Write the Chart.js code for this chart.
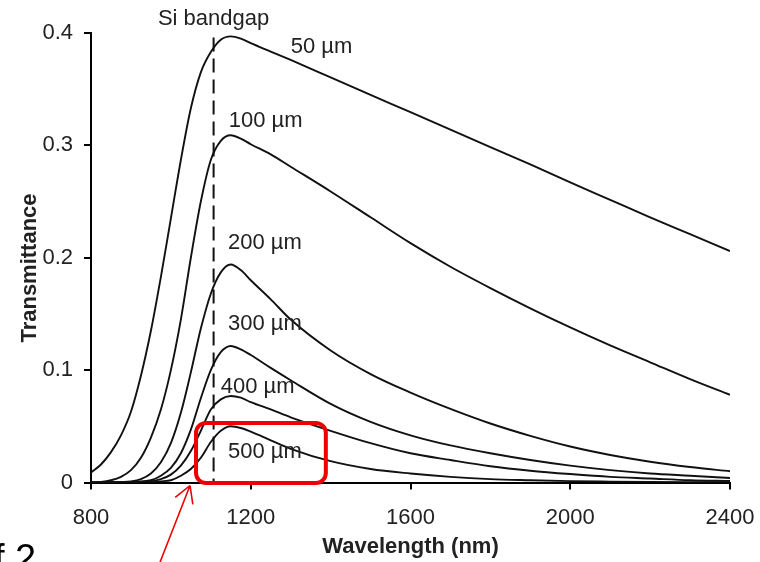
<!DOCTYPE html>
<html>
<head>
    <title>Si transmittance</title>
    <script src="https://cdn.jsdelivr.net/npm/chart.js"></script>
    <style>
        body { margin: 0; background: #fff; }
    </style>
</head>
<body>
    <canvas id="myChart" width="760" height="562"></canvas>

    <script>
        // wavelength grid (nm) shared by all curves
        var wavelengths = [800, 825, 850, 875, 900, 925, 950, 975, 1000, 1025, 1050, 1075, 1100, 1125, 1150, 1175, 1200,
            1250, 1300, 1400, 1500, 1600, 1700, 1800, 1900, 2000, 2100, 2200, 2300, 2400];

        // transmittance, one array per wafer thickness
        var t50 = [0.009, 0.016, 0.027, 0.042, 0.063, 0.095, 0.135, 0.183, 0.235, 0.287, 0.333, 0.365, 0.383, 0.394, 0.397, 0.395, 0.391,
            0.3835, 0.376, 0.3605, 0.345, 0.3295, 0.314, 0.2985, 0.283, 0.267, 0.2515, 0.236, 0.221, 0.206];
        var t100 = [0, 0.0005, 0.002, 0.005, 0.011, 0.022, 0.040, 0.065, 0.100, 0.145, 0.200, 0.250, 0.287, 0.304, 0.309, 0.306, 0.301,
            0.292, 0.281, 0.259, 0.236, 0.213, 0.192, 0.173, 0.155, 0.138, 0.122, 0.107, 0.092, 0.078];
        var t200 = [0, 0, 0.0002, 0.0005, 0.001, 0.003, 0.008, 0.018, 0.035, 0.062, 0.098, 0.137, 0.168, 0.187, 0.194, 0.189, 0.180,
            0.163, 0.145, 0.1175, 0.0965, 0.080, 0.0655, 0.0525, 0.0415, 0.032, 0.0245, 0.0185, 0.0138, 0.010];
        var t300 = [0, 0, 0, 0, 0.0003, 0.001, 0.002, 0.006, 0.013, 0.026, 0.047, 0.075, 0.100, 0.116, 0.1215, 0.1185, 0.1135,
            0.102, 0.091, 0.070, 0.054, 0.042, 0.033, 0.026, 0.020, 0.015, 0.011, 0.008, 0.006, 0.004];
        var t400 = [0, 0, 0, 0, 0, 0.0005, 0.001, 0.003, 0.007, 0.015, 0.028, 0.046, 0.065, 0.074, 0.077, 0.0755, 0.0715,
            0.065, 0.058, 0.046, 0.035, 0.026, 0.020, 0.0145, 0.0105, 0.0075, 0.005, 0.0035, 0.002, 0.0013];
        var t500 = [0, 0, 0, 0, 0, 0, 0.0003, 0.001, 0.002, 0.006, 0.012, 0.022, 0.036, 0.046, 0.050, 0.0485, 0.0452,
            0.0375, 0.030, 0.019, 0.012, 0.008, 0.005, 0.003, 0.002, 0.0012, 0.0008, 0.0005, 0.0003, 0.0002];

        var thicknessLabels = ['50 µm', '100 µm', '200 µm', '300 µm', '400 µm', '500 µm'];
        var xTicks = [800, 1200, 1600, 2000, 2400];
        var yTicks = [0, 0.1, 0.2, 0.3, 0.4];
        var bandgap = 1107;

        var series = [t50, t100, t200, t300, t400, t500];

        // where each thickness label sits (wavelength, transmittance at text centre)
        var labelAt = [[1300, 0.388], [1145, 0.322], [1143, 0.213], [1143, 0.141], [1125, 0.085], [1143, 0.027]];

        var fontFamily = '"Liberation Sans", Arial, sans-serif';

        var overlay = {
            id: 'overlay',
            afterDatasetsDraw: function(chart) {
                var ctx = chart.ctx;
                var x = chart.scales.x, y = chart.scales.y;
                ctx.save();

                // Si bandgap dashed marker
                var bx = x.getPixelForValue(bandgap);
                ctx.strokeStyle = '#111';
                ctx.lineWidth = 2;
                ctx.setLineDash([14, 7]);
                ctx.beginPath();
                ctx.moveTo(bx, y.getPixelForValue(0.396));
                ctx.lineTo(bx, y.getPixelForValue(0));
                ctx.stroke();
                ctx.setLineDash([]);

                ctx.fillStyle = '#222';
                ctx.font = '22px ' + fontFamily;
                ctx.textAlign = 'center';
                ctx.textBaseline = 'middle';
                ctx.fillText('Si bandgap', bx, y.getPixelForValue(0.4) - 14);

                // thickness labels
                ctx.textAlign = 'left';
                thicknessLabels.forEach(function(txt, i) {
                    ctx.fillText(txt, x.getPixelForValue(labelAt[i][0]), y.getPixelForValue(labelAt[i][1]));
                });

                // y axis title
                ctx.save();
                ctx.translate(30, 268);
                ctx.rotate(-Math.PI / 2);
                ctx.textAlign = 'center';
                ctx.font = 'bold 22px ' + fontFamily;
                ctx.fillText('Transmittance', 0, 0);
                ctx.restore();

                // red highlight box
                ctx.strokeStyle = '#ee0000';
                ctx.lineWidth = 4;
                ctx.beginPath();
                var l = x.getPixelForValue(1063), r = x.getPixelForValue(1388);
                var t = y.getPixelForValue(0.053), b = y.getPixelForValue(0) + 0.5;
                ctx.roundRect(l, t, r - l, b - t, 10);
                ctx.stroke();

                // red arrow from below the axis
                var tipX = x.getPixelForValue(1048), tipY = y.getPixelForValue(0) + 3;
                var tailX = x.getPixelForValue(973), tailY = chart.height;
                ctx.lineWidth = 1.6;
                ctx.beginPath();
                ctx.moveTo(tailX, tailY);
                ctx.lineTo(tipX, tipY);
                var ang = Math.atan2(tailY - tipY, tailX - tipX);
                [-0.52, 0.52].forEach(function(d) {
                    ctx.moveTo(tipX, tipY);
                    ctx.lineTo(tipX + 19 * Math.cos(ang + d), tipY + 19 * Math.sin(ang + d));
                });
                ctx.stroke();

                // clipped caption fragment at bottom left
                ctx.fillStyle = '#000';
                ctx.font = '38px ' + fontFamily;
                ctx.textBaseline = 'alphabetic';
                ctx.fillText('f 2', -6, 571);

                ctx.restore();
            }
        };

        var ctx = document.getElementById('myChart').getContext('2d');
        var myChart = new Chart(ctx, {
            type: 'line',
            data: {
                datasets: series.map(function(vals, i) {
                    return {
                        label: thicknessLabels[i],
                        data: wavelengths.map(function(w, j) { return { x: w, y: vals[j] }; }),
                        borderColor: '#111',
                        borderWidth: 1.9,
                        pointRadius: 0,
                        fill: false,
                        cubicInterpolationMode: 'monotone'
                    };
                })
            },
            options: {
                responsive: false,
                animation: false,
                layout: { padding: { top: 33, right: 30, left: 0, bottom: 0 } },
                plugins: {
                    legend: { display: false },
                    tooltip: { enabled: false }
                },
                scales: {
                    x: {
                        type: 'linear',
                        min: 800,
                        max: 2400,
                        afterBuildTicks: function(scale) {
                            scale.ticks = xTicks.map(function(v) { return { value: v }; });
                        },
                        afterFit: function(scale) {
                            scale.height = 79.5;
                            scale.paddingLeft = 0;
                            scale.paddingRight = 0;
                        },
                        grid: { drawOnChartArea: false, drawTicks: true, tickLength: 7, color: '#000', lineWidth: 2 },
                        border: { color: '#000', width: 2 },
                        ticks: {
                            color: '#222',
                            padding: 15,
                            font: { size: 22, family: fontFamily },
                            callback: function(v) { return String(v); }
                        },
                        title: {
                            display: true,
                            text: 'Wavelength (nm)',
                            color: '#222',
                            padding: { bottom: 2 },
                            font: { size: 22, weight: 'bold', family: fontFamily }
                        }
                    },
                    y: {
                        min: 0,
                        max: 0.4,
                        afterBuildTicks: function(scale) {
                            scale.ticks = yTicks.map(function(v) { return { value: v }; });
                        },
                        afterFit: function(scale) {
                            scale.width = 91;
                            scale.paddingTop = 0;
                            scale.paddingBottom = 0;
                        },
                        grid: { drawOnChartArea: false, drawTicks: true, tickLength: 7, color: '#000', lineWidth: 2 },
                        border: { color: '#000', width: 2 },
                        ticks: {
                            color: '#222',
                            padding: 11,
                            font: { size: 22, family: fontFamily },
                            callback: function(v) { return v === 0 ? '0' : v.toFixed(1); }
                        }
                    }
                }
            },
            plugins: [overlay]
        });
    </script>
</body>
</html>
